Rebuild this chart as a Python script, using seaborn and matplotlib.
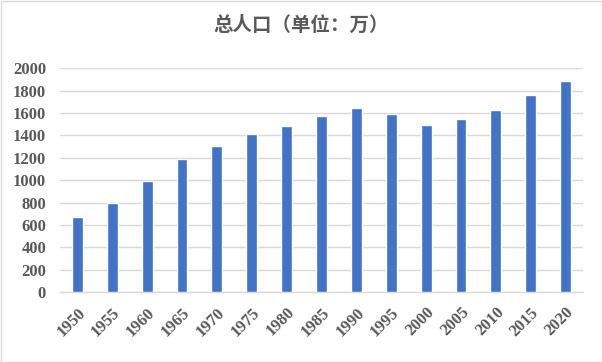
import matplotlib
matplotlib.use("Agg")
import matplotlib.pyplot as plt
import seaborn as sns
import pandas as pd
from matplotlib.patches import Rectangle

years = ["1950", "1955", "1960", "1965", "1970", "1975", "1980", "1985",
         "1990", "1995", "2000", "2005", "2010", "2015", "2020"]
population = [672, 800, 996, 1190, 1309, 1413, 1488, 1574,
              1648, 1592, 1494, 1550, 1630, 1762, 1889]
title = "总人口（单位：万）"
yticks = [0, 200, 400, 600, 800, 1000, 1200, 1400, 1600, 1800, 2000]

df = pd.DataFrame({"year": years, "pop": population})

sns.set_theme(style="white")
plt.rcParams['font.family'] = ['Liberation Serif', 'DejaVu Serif']

fig = plt.figure(figsize=(6.02, 3.62), dpi=100)
ax = fig.add_axes([60/602, 1-292/362, (583-60)/602, (292-68.3)/362])

sns.barplot(data=df, x="year", y="pop", color="#4472C4", width=0.31,
            saturation=1, ax=ax, zorder=3)

ax.set_ylim(0, 2000)
ax.set_xlim(-0.5, len(years)-0.5)
ax.set_yticks(yticks)
ax.yaxis.grid(True, color="#D9D9D9", linewidth=1, zorder=0)
ax.set_axisbelow(True)
for s in ["top", "right", "left"]:
    ax.spines[s].set_visible(False)
ax.spines["bottom"].set_color("#D9D9D9")
ax.spines["bottom"].set_linewidth(1)
ax.tick_params(axis="both", length=0, colors="#595959", labelsize=12)
ax.tick_params(axis="y", pad=10)
ax.tick_params(axis="x", pad=9)
for lab in ax.get_yticklabels():
    lab.set_fontweight("bold")
for lab in ax.get_xticklabels():
    lab.set_rotation(45)
    lab.set_ha("right")
    lab.set_rotation_mode("anchor")
    lab.set_fontweight("bold")
ax.set_xlabel("")
ax.set_ylabel("")

fig.text(0.5, 1-25/362, title, ha="center", va="center", fontsize=14,
         fontweight="bold", color="#595959",
         family=["Noto Sans CJK SC", "DejaVu Sans"])

fig.patches.append(Rectangle((0.5/602, 0.5/362), 1-1/602, 1-1/362,
                             transform=fig.transFigure, fill=False,
                             edgecolor="#D9D9D9", linewidth=1))

fig.savefig("out.png", dpi=100)
